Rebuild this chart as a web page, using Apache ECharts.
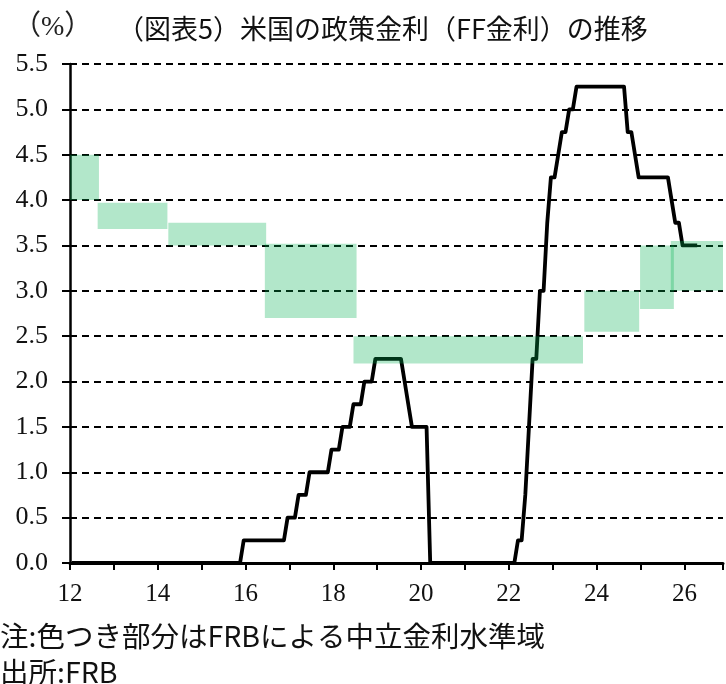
<!DOCTYPE html>
<html>
<head>
<meta charset="utf-8">
<script src="https://cdn.jsdelivr.net/npm/echarts@6/dist/echarts.min.js"></script>
<style>
  html, body { margin: 0; padding: 0; background: #fff; }
  #chart { width: 726px; height: 684px; }
</style>
</head>
<body>
<div id="chart"></div>
<script>
// FF rate (lower bound of target range), month-end, Jan 2012 - Apr 2026
const ffRate = [
  0, 0, 0, 0, 0, 0, 0, 0, 0, 0, 0, 0,                               // 2012
  0, 0, 0, 0, 0, 0, 0, 0, 0, 0, 0, 0,                               // 2013
  0, 0, 0, 0, 0, 0, 0, 0, 0, 0, 0, 0,                               // 2014
  0, 0, 0, 0, 0, 0, 0, 0, 0, 0, 0, 0.25,                            // 2015
  0.25, 0.25, 0.25, 0.25, 0.25, 0.25, 0.25, 0.25, 0.25, 0.25, 0.25, 0.5, // 2016
  0.5, 0.5, 0.75, 0.75, 0.75, 1.0, 1.0, 1.0, 1.0, 1.0, 1.0, 1.25,   // 2017
  1.25, 1.25, 1.5, 1.5, 1.5, 1.75, 1.75, 1.75, 2.0, 2.0, 2.0, 2.25, // 2018
  2.25, 2.25, 2.25, 2.25, 2.25, 2.25, 2.25, 2.0, 1.75, 1.5, 1.5, 1.5, // 2019
  1.5, 1.5, 0, 0, 0, 0, 0, 0, 0, 0, 0, 0,                           // 2020
  0, 0, 0, 0, 0, 0, 0, 0, 0, 0, 0, 0,                               // 2021
  0, 0, 0.25, 0.25, 0.75, 1.5, 2.25, 2.25, 3.0, 3.0, 3.75, 4.25,    // 2022
  4.25, 4.5, 4.75, 4.75, 5.0, 5.0, 5.25, 5.25, 5.25, 5.25, 5.25, 5.25, // 2023
  5.25, 5.25, 5.25, 5.25, 5.25, 5.25, 5.25, 5.25, 4.75, 4.75, 4.5, 4.25, // 2024
  4.25, 4.25, 4.25, 4.25, 4.25, 4.25, 4.25, 4.25, 4.0, 3.75, 3.75, 3.5, // 2025
  3.5, 3.5, 3.5, 3.5                                                // 2026
];
const firstYear = 12;

// neutral rate ranges (coloured boxes)
const boxStart = [12.0, 12.63, 14.24, 16.44, 18.46, 23.72, 24.99, 25.69];
const boxEnd   = [12.66, 14.22, 16.47, 18.53, 23.69, 24.97, 25.76, 27.0];
const boxLow   = [4.0, 3.68, 3.5, 2.7, 2.2, 2.55, 2.8, 3.0];
const boxHigh  = [4.5, 3.97, 3.75, 3.52, 2.5, 3.0, 3.5, 3.55];

const yTicks = [0, 0.5, 1, 1.5, 2, 2.5, 3, 3.5, 4, 4.5, 5, 5.5];

const lineData = ffRate.map((v, i) => [firstYear + (i + 0.5) / 12, v]);
const boxData = boxStart.map((s, i) => [s, boxEnd[i], boxLow[i], boxHigh[i]]);

const serif = '"Liberation Serif", "DejaVu Serif", serif';
const gothic = '"Noto Sans CJK JP", sans-serif';

const chart = echarts.init(document.getElementById('chart'));
chart.setOption({
  animation: false,
  grid: { left: 70, right: 0, top: 64, bottom: 121, containLabel: false },
  xAxis: {
    type: 'value',
    min: 12,
    max: 26.88,
    interval: 1,
    axisLine: { show: true, onZero: false, lineStyle: { color: '#000', width: 3 } },
    axisTick: { show: true, inside: false, length: 7, lineStyle: { color: '#000', width: 2 } },
    axisLabel: {
      margin: 19,
      color: '#111',
      fontFamily: serif,
      fontSize: 25,
      formatter: function (v) {
        return (Math.abs(v - Math.round(v)) < 1e-6 && Math.round(v) % 2 === 0) ? String(Math.round(v)) : '';
      }
    },
    splitLine: { show: false }
  },
  yAxis: {
    type: 'value',
    min: 0,
    max: 5.5,
    interval: 0.5,
    axisLine: { show: true, lineStyle: { color: '#000', width: 2.5 } },
    axisTick: { show: true, inside: false, length: 8, lineStyle: { color: '#000', width: 2 } },
    axisLabel: {
      margin: 22,
      color: '#111',
      fontFamily: serif,
      fontSize: 26,
      formatter: function (v) { return yTicks.indexOf(v) >= 0 ? v.toFixed(1) : ''; }
    },
    splitLine: { show: true, lineStyle: { color: '#000', width: 2, type: [7, 5] } }
  },
  series: [
    {
      type: 'line',
      data: lineData,
      showSymbol: false,
      z: 2,
      lineStyle: { color: '#000', width: 3.8, join: 'round' }
    },
    {
      type: 'custom',
      z: 5,
      data: boxData,
      renderItem: function (params, api) {
        const p0 = api.coord([api.value(0), api.value(3)]);
        const p1 = api.coord([api.value(1), api.value(2)]);
        const rect = echarts.graphic.clipRectByRect(
          { x: p0[0], y: p0[1], width: p1[0] - p0[0], height: p1[1] - p0[1] },
          { x: params.coordSys.x, y: params.coordSys.y, width: params.coordSys.width, height: params.coordSys.height }
        );
        return rect && { type: 'rect', shape: rect, style: { fill: 'rgba(0,176,80,0.3)' } };
      }
    }
  ],
  graphic: [
    { type: 'text', x: 13, y: 28, style: { text: '（%）', fontSize: 28, fontFamily: serif + ', ' + gothic, fill: '#222', verticalAlign: 'middle' } },
    { type: 'text', x: 117, y: 29, style: { text: '（図表5）米国の政策金利（FF金利）の推移', fontSize: 27, fontFamily: gothic, fill: '#111', verticalAlign: 'middle' } },
    { type: 'text', x: 0, y: 636, style: { text: '注:色つき部分はFRBによる中立金利水準域', fontSize: 28.5, fontFamily: gothic, fill: '#111', verticalAlign: 'middle' } },
    { type: 'text', x: 0, y: 672, style: { text: '出所:FRB', fontSize: 28.5, fontFamily: gothic, fill: '#111', verticalAlign: 'middle' } }
  ]
});
</script>
</body>
</html>
